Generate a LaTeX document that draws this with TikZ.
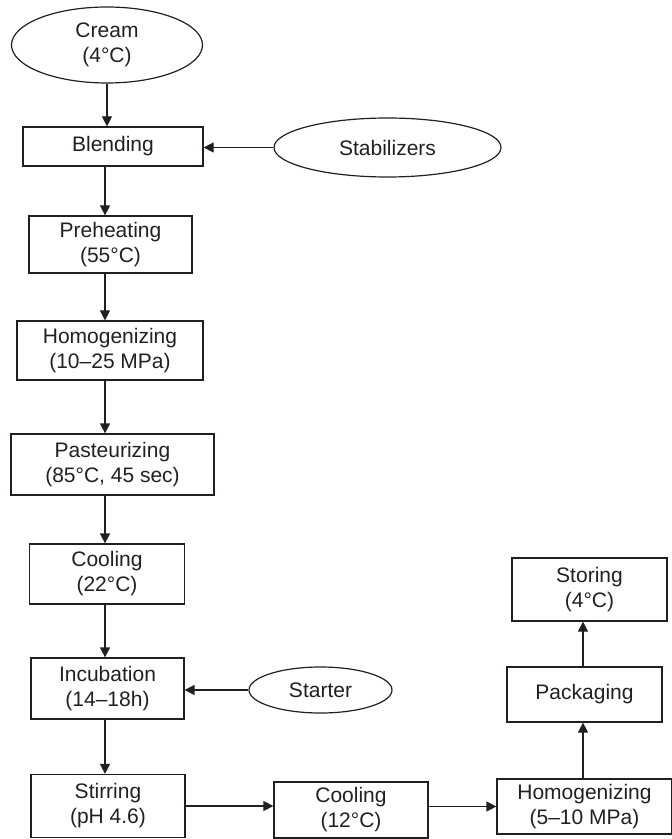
\documentclass[tikz,border=0pt]{standalone}
\usepackage{fontspec}
\setmainfont{Liberation Sans}
\usepackage{tikz}
\usetikzlibrary{arrows.meta, shapes.geometric}
\definecolor{ink}{HTML}{231F20}
\tikzset{
    procbox/.style={draw=ink, text=ink, rectangle, inner sep=0pt, align=center, line width=0.6pt}, % process step
    inoval/.style={draw=ink, text=ink, ellipse, inner sep=0pt, align=center, line width=0.6pt}, % raw material
    flow/.style={draw=ink, line width=0.6pt, -{Triangle[length=5pt, width=5pt]}} % connecting arrow
}

\begin{document}
\begin{tikzpicture}[x=0.5pt, y=-0.5pt, font=\fontsize{10.5}{12.5}\selectfont]
    \useasboundingbox (0,0) rectangle (672,839);
    \coordinate (spine) at (105,0);
    \coordinate (rspine) at (583,0);

    % main line
    \node[inoval, minimum width=95.5pt, minimum height=38pt] (cream) at (107,45) {Cream\\(4°C)};
    \node[procbox, minimum width=90pt, minimum height=19.5pt] (blend) at (113,146.5) {Blending};
    \node[inoval, minimum width=113.5pt, minimum height=29.5pt] (stab) at (387.5,147.5) {Stabilizers};
    \node[procbox, minimum width=81.5pt, minimum height=28.5pt] (preheat) at (110.5,244.5) {Preheating\\(55°C)};
    \node[procbox, minimum width=93pt, minimum height=29.5pt] (homog) at (110,350.5) {Homogenizing\\(10–25 MPa)};
    \node[procbox, minimum width=101.5pt, minimum height=30.5pt] (pasteur) at (112.5,464.5) {Pasteurizing\\(85°C, 45 sec)};
    \node[procbox, minimum width=77.5pt, minimum height=30pt] (cool) at (107,574) {Cooling\\(22°C)};
    \node[procbox, minimum width=76.5pt, minimum height=30.5pt] (incub) at (107.5,688.5) {Incubation\\(14–18h)};
    \node[inoval, minimum width=71.5pt, minimum height=23pt] (starter) at (320.5,690) {Starter};
    \node[procbox, minimum width=77pt, minimum height=31.5pt] (stir) at (108,806) {Stirring\\(pH 4.6)};

    % bottom row and return column
    \node[procbox, minimum width=77pt, minimum height=28pt] (coolb) at (351,810) {Cooling\\(12°C)};
    \node[procbox, minimum width=87.5pt, minimum height=27.5pt] (homogb) at (584.5,806.5) {Homogenizing\\(5–10 MPa)};
    \node[procbox, minimum width=77.5pt, minimum height=27.5pt] (pack) at (584.5,694.5) {Packaging};
    \node[procbox, minimum width=77.5pt, minimum height=31.5pt] (store) at (589.5,589.5) {Storing\\(4°C)};

    \draw[flow] (cream.south) -- (cream.south |- blend.north);
    \foreach \a/\b in {blend/preheat, preheat/homog, homog/pasteur, pasteur/cool, cool/incub, incub/stir}
        \draw[flow] (\a.south -| spine) -- (\b.north -| spine);
    \draw[flow] (stab.west) -- (stab.west -| blend.east);
    \draw[flow] (starter.west) -- (starter.west -| incub.east);
    \draw[flow] (stir.east) -- (stir.east -| coolb.west);
    \draw[flow] (homogb.west -| coolb.east) -- (homogb.west);
    \draw[flow] (homogb.north -| rspine) -- (pack.south -| rspine);
    \draw[flow] (pack.north -| rspine) -- (store.south -| rspine);
\end{tikzpicture}
\end{document}
